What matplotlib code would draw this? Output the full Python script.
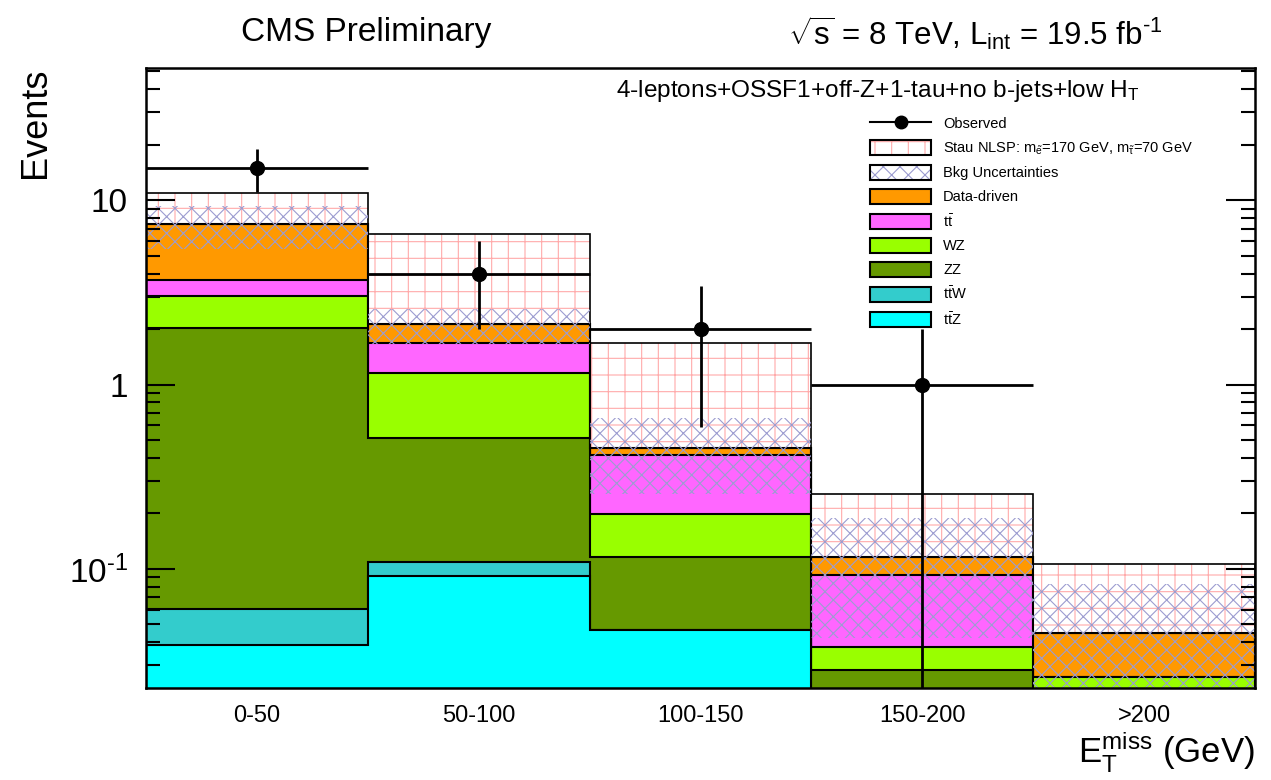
import matplotlib
matplotlib.use("Agg")
import matplotlib.pyplot as plt
import numpy as np
from matplotlib.patches import Patch
from matplotlib.lines import Line2D
from matplotlib.ticker import FixedLocator, LogLocator, NullFormatter

plt.rcParams['font.family'] = ['Liberation Sans', 'DejaVu Sans']
plt.rcParams['mathtext.fontset'] = 'custom'
plt.rcParams['mathtext.rm'] = 'Liberation Sans'
plt.rcParams['mathtext.it'] = 'Liberation Sans:italic'
plt.rcParams['hatch.linewidth'] = 0.8

# MET bins
bins = ['0-50', '50-100', '100-150', '150-200', '>200']

# background components (stack order bottom -> top)
ttz = [0.0386, 0.0914, 0.0466, 0.0, 0.0]
ttw = [0.022, 0.017, 0.0, 0.0, 0.0]
zz = [1.96, 0.408, 0.069, 0.0283, 0.0]
wz = [0.99, 0.634, 0.084, 0.0096, 0.026]
ttbar = [0.67, 0.54, 0.214, 0.0546, 0.0]
datadriven = [3.73, 0.43, 0.042, 0.0235, 0.0192]

# signal stacked on top of background, bkg uncertainty, data
signal = [3.49, 4.40, 1.22, 0.138, 0.061]
bkg_unc = [1.95, 0.46, 0.20, 0.074, 0.0375]
observed = [15, 4, 2, 1, 0]

components = [ttz, ttw, zz, wz, ttbar, datadriven]
comp_colors = ['#00ffff', '#33cccc', '#669900', '#99ff00', '#ff66ff', '#ff9900']
comp_labels = [r'$\mathrm{t\bar{t}Z}$', r'$\mathrm{t\bar{t}W}$', 'ZZ', 'WZ',
               r'$\mathrm{t\bar{t}}$', 'Data-driven']

edges = np.arange(len(bins) + 1) - 0.5
centers = np.arange(len(bins))
base = 1e-4

fig = plt.figure(figsize=(12.71, 7.80), dpi=100)
ax = fig.add_axes([146 / 1271, 1 - 688 / 780, 1109 / 1271, 620.5 / 780])
ax.set_yscale('log')

cum = np.cumsum(np.array(components), axis=0)
# draw largest cumulative first, smaller on top (ROOT stack style)
for i in range(len(components) - 1, -1, -1):
    ax.stairs(np.maximum(cum[i], base), edges, baseline=base, fill=True,
              facecolor=comp_colors[i], edgecolor='black', linewidth=1.5)

total = cum[-1]
sig_top = total + np.array(signal)

# signal: pink grid hatch on white
ax.stairs(sig_top, edges, baseline=total, fill=True, facecolor='white',
          edgecolor='#ffaaaa', hatch='+', linewidth=0)
ax.stairs(sig_top, edges, baseline=base, fill=False, edgecolor='black', linewidth=1.2)
ax.stairs(total, edges, baseline=base, fill=False, edgecolor='black', linewidth=1.5)

# background uncertainty band
unc = np.array(bkg_unc)
ax.stairs(total + unc, edges, baseline=np.maximum(total - unc, base), fill=True,
          facecolor='none', edgecolor='#9c9cd0', hatch='xx', linewidth=0)

# observed data with sqrt(N) errors
obs = np.array(observed, dtype=float)
m = obs > 0
err = np.sqrt(obs)
lo = np.minimum(err, obs - base)
ax.errorbar(centers[m], obs[m], xerr=0.5, yerr=[lo[m], err[m]], fmt='o', color='black',
            markersize=10, elinewidth=2, capsize=0, zorder=10)

ax.set_xlim(edges[0], edges[-1])
ax.set_ylim(0.0226, 52.5)

ax.set_xticks(centers)
ax.set_xticklabels(bins)
ax.tick_params(axis='x', length=0, labelsize=17, pad=12)

ax.yaxis.set_major_locator(FixedLocator([0.1, 1, 10]))
ax.set_yticklabels(['$\\mathregular{10^{\u2010 1}}$', '1', '10'])
ax.yaxis.set_minor_locator(LogLocator(base=10, subs=np.arange(2, 10)))
ax.yaxis.set_minor_formatter(NullFormatter())
ax.tick_params(axis='y', which='major', direction='in', length=21, width=1.5,
               right=True, labelsize=24, pad=13)
ax.tick_params(axis='y', which='minor', direction='in', length=10, width=1.5, right=True)
for s in ax.spines.values():
    s.set_linewidth(1.8)

# legend
handles = [Line2D([0], [0], color='black', marker='o', markersize=9, linewidth=1.5),
           (Patch(facecolor='white', edgecolor='#ffaaaa', hatch='+', linewidth=0),
            Patch(facecolor='none', edgecolor='black', linewidth=1.5)),
           (Patch(facecolor='white', edgecolor='#9c9cd0', hatch='xx', linewidth=0),
            Patch(facecolor='none', edgecolor='black', linewidth=1.5))]
labels = ['Observed',
          r'Stau NLSP: $\mathrm{m_{\tilde{e}}}$=170 GeV, $\mathrm{m_{\tilde{\tau}}}$=70 GeV',
          'Bkg Uncertainties']
for i in range(len(components) - 1, -1, -1):
    handles.append(Patch(facecolor=comp_colors[i], edgecolor='black', linewidth=1.5))
    labels.append(comp_labels[i])
ax.legend(handles, labels, loc='upper left', bbox_to_anchor=(0.653, 0.922),
          frameon=False, fontsize=10.5, handlelength=4.2, handleheight=1.2,
          labelspacing=0.58, handletextpad=0.8, borderaxespad=0, borderpad=0)

# texts
fig.text(366 / 1271, 1 - 33 / 780, 'CMS Preliminary', ha='center', va='center', fontsize=24)
fig.text(975 / 1271, 1 - 33 / 780,
         '$\\sqrt{\\mathregular{s}}$ = 8 TeV, $\\mathregular{L_{int}}$ = 19.5 fb$^{\\mathregular{\u2010 1}}$',
         ha='center', va='center', fontsize=22.5)
fig.text(1140 / 1271, 1 - 97 / 780, r'4-leptons+OSSF1+off-Z+1-tau+no b-jets+low $\mathregular{H_T}$',
         ha='right', va='baseline', fontsize=17.6)
fig.text(35 / 1271, 1 - 68 / 780, 'Events', rotation=90, ha='center', va='top', fontsize=26)
ax.text(1.0, (688 - 752) / 620.5, r'$\mathregular{E_T^{miss}}$ (GeV)', transform=ax.transAxes,
        ha='right', va='center', fontsize=25)

fig.savefig('out.png', dpi=100)
